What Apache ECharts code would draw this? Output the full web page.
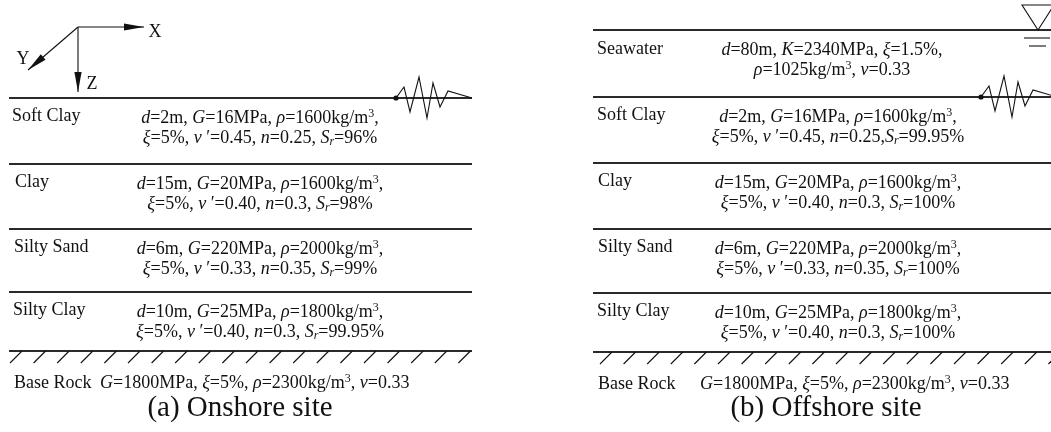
<!DOCTYPE html>
<html>
<head>
<meta charset="utf-8">
<script src="https://cdn.jsdelivr.net/npm/echarts@6/dist/echarts.min.js"></script>
<style>
  html, body { margin: 0; padding: 0; background: #fff; }
  #main { width: 1051px; height: 432px; }
</style>
</head>
<body>
<div id="main"></div>
<script>
// ---- Soil profile properties ----
const soilLayers = ['Soft Clay', 'Clay', 'Silty Sand', 'Silty Clay'];
const soilThickness = ['2', '15', '6', '10'];          // d (m)
const soilShearModulus = ['16', '20', '220', '25'];    // G (MPa)
const soilDensity = ['1600', '1600', '2000', '1800'];  // rho (kg/m3)
const soilDamping = ['5', '5', '5', '5'];              // xi (%)
const soilPoisson = ['0.45', '0.40', '0.33', '0.40'];  // nu'
const soilPorosity = ['0.25', '0.3', '0.35', '0.3'];   // n
const onshoreSaturation = ['96', '98', '99', '99.95']; // Sr (%)
const offshoreSaturation = ['99.95', '100', '100', '100'];
const onshoreSrSeparator = [', ', ', ', ', ', ', '];
const offshoreSrSeparator = [',', ', ', ', ', ', '];

// Seawater column: d (m), K (MPa), xi (%), rho (kg/m3), nu
const seawaterName = 'Seawater';
const seawaterProps = ['80', '2340', '1.5', '1025', '0.33'];

// Bedrock: G (MPa), xi (%), rho (kg/m3), nu
const rockName = 'Base Rock';
const rockProps = ['1800', '5', '2300', '0.33'];

const captions = ['(a) Onshore site', '(b) Offshore site'];
const axisNames = ['X', 'Y', 'Z'];

// ---- Layout of the two panels (pixel space of the hidden axes) ----
const panels = [
  { x0: 9, x1: 472, tops: [98, 164, 229, 292], rockLine: 351, labelX: [12, 15, 14, 13],
    descX: 260, rockLabelX: 14, rockDescX: 100, rockY: 383, captionX: 240, captionY: 408,
    hatchStart: 10, hatchStep: 23.6, hatchCount: 20, sat: onshoreSaturation, sep: onshoreSrSeparator,
    wave: [396, 98] },
  { x0: 593, x1: 1051, tops: [97, 163, 229, 293], rockLine: 352, labelX: [597, 598, 598, 597],
    descX: 838, rockLabelX: 598, rockDescX: 700, rockY: 384, captionX: 826, captionY: 408,
    hatchStart: 600, hatchStep: 23.6, hatchCount: 20, sat: offshoreSaturation, sep: offshoreSrSeparator,
    wave: [981, 97], water: { top: 30, labelX: 597, descX: 832 } }
];

const FONT = '"Liberation Serif", "Times New Roman", serif';
const INK = '#111';
const LINE = '#2a2a2a';
const rich = {
  n: { fontFamily: FONT, fontSize: 18, lineHeight: 20, color: INK },
  i: { fontFamily: FONT, fontSize: 18, lineHeight: 20, fontStyle: 'italic', color: INK },
  sup: { fontFamily: FONT, fontSize: 12, lineHeight: 20, verticalAlign: 'top', color: INK },
  sub: { fontFamily: FONT, fontSize: 12, lineHeight: 20, fontStyle: 'italic', verticalAlign: 'bottom', color: INK }
};
const tok = (s, t) => '{' + s + '|' + t + '}';

function soilText(i, sat, sep) {
  const l1 = tok('i', 'd') + tok('n', '=' + soilThickness[i] + 'm, ') +
    tok('i', 'G') + tok('n', '=' + soilShearModulus[i] + 'MPa, ') +
    tok('i', 'ρ') + tok('n', '=' + soilDensity[i] + 'kg/m') + tok('sup', '3') + tok('n', ',');
  const l2 = tok('i', 'ξ') + tok('n', '=' + soilDamping[i] + '%, ') +
    tok('i', 'ν') + tok('n', ' ′=' + soilPoisson[i] + ', ') +
    tok('i', 'n') + tok('n', '=' + soilPorosity[i] + sep[i]) +
    tok('i', 'S') + tok('sub', 'r') + tok('n', '=' + sat[i] + '%');
  return l1 + '\n' + l2;
}
function seawaterText() {
  const p = seawaterProps;
  return tok('i', 'd') + tok('n', '=' + p[0] + 'm, ') + tok('i', 'K') + tok('n', '=' + p[1] + 'MPa, ') +
    tok('i', 'ξ') + tok('n', '=' + p[2] + '%,') + '\n' +
    tok('i', 'ρ') + tok('n', '=' + p[3] + 'kg/m') + tok('sup', '3') + tok('n', ', ') +
    tok('i', 'ν') + tok('n', '=' + p[4]);
}
function rockText() {
  const p = rockProps;
  return tok('i', 'G') + tok('n', '=' + p[0] + 'MPa, ') + tok('i', 'ξ') + tok('n', '=' + p[1] + '%, ') +
    tok('i', 'ρ') + tok('n', '=' + p[2] + 'kg/m') + tok('sup', '3') + tok('n', ', ') +
    tok('i', 'ν') + tok('n', '=' + p[3]);
}

function textEl(api, x, y, text, align, size) {
  const c = api.coord([x, y]);
  return {
    type: 'text', x: c[0], y: c[1],
    style: size
      ? { text: text, fontFamily: FONT, fontSize: size, fill: INK, align: align, verticalAlign: 'middle' }
      : { text: text, rich: rich, align: align, verticalAlign: 'middle', fill: INK }
  };
}
function lineEl(api, a, b, w, color) {
  const p = api.coord(a), q = api.coord(b);
  return { type: 'line', shape: { x1: p[0], y1: p[1], x2: q[0], y2: q[1] },
    style: { stroke: color || LINE, lineWidth: w || 1.8 } };
}
function arrowHead(api, from, tip, len, half) {
  const dx = tip[0] - from[0], dy = tip[1] - from[1];
  const L = Math.hypot(dx, dy), ux = dx / L, uy = dy / L;
  const bx = tip[0] - ux * len, by = tip[1] - uy * len;
  const pts = [tip, [bx - uy * half, by + ux * half], [bx + uy * half, by - ux * half]].map(p => api.coord(p));
  return { type: 'polygon', shape: { points: pts }, style: { fill: INK } };
}
// Seismic input symbol sitting on the ground line
function waveEl(api, origin) {
  const offs = [[0, 0], [8, -11], [14, 14], [23, -21], [31, 20], [37, -15], [44, 9], [52, -7], [76, 0]];
  const pts = offs.map(o => api.coord([origin[0] + o[0], origin[1] + o[1]]));
  const c = api.coord(origin);
  return [
    { type: 'polyline', shape: { points: pts }, style: { stroke: INK, lineWidth: 1.1, fill: null } },
    { type: 'circle', shape: { cx: c[0], cy: c[1], r: 2.6 }, style: { fill: INK } }
  ];
}

function renderSoil(panelIdx) {
  return function (params, api) {
    const P = panels[panelIdx];
    const i = api.value(0);
    const top = P.tops[i];
    return { type: 'group', children: [
      lineEl(api, [P.x0, top], [P.x1, top]),
      textEl(api, P.labelX[i], top + 18, soilLayers[i], 'left', 18),
      textEl(api, P.descX, top + 30, soilText(i, P.sat, P.sep), 'center')
    ] };
  };
}

function renderFrame(panelIdx) {
  return function (params, api) {
    const P = panels[panelIdx];
    const ch = [];
    // bedrock line and hatching
    ch.push(lineEl(api, [P.x0, P.rockLine], [P.x1, P.rockLine]));
    for (let k = 0; k < P.hatchCount; k++) {
      const bx = P.hatchStart + k * P.hatchStep;
      ch.push(lineEl(api, [bx, P.rockLine + 12], [bx + 12, P.rockLine], 1.1, INK));
    }
    ch.push(textEl(api, P.rockLabelX, P.rockY, rockName, 'left', 18));
    ch.push(textEl(api, P.rockDescX, P.rockY, rockText(), 'left'));
    ch.push(textEl(api, P.captionX, P.captionY, captions[panelIdx], 'center', 29));
    waveEl(api, P.wave).forEach(e => ch.push(e));
    if (P.water) {
      const W = P.water;
      ch.push(lineEl(api, [P.x0, W.top], [P.x1, W.top]));
      ch.push(textEl(api, W.labelX, W.top + 19, seawaterName, 'left', 18));
      ch.push(textEl(api, W.descX, W.top + 30, seawaterText(), 'center'));
      const tri = [[1022, 5], [1054, 5], [1038, W.top]].map(p => api.coord(p));
      ch.push({ type: 'polygon', shape: { points: tri }, style: { fill: null, stroke: INK, lineWidth: 1.1 } });
      ch.push(lineEl(api, [1024, W.top + 8], [1050, W.top + 8], 1.1, INK));
      ch.push(lineEl(api, [1029, W.top + 16], [1046, W.top + 16], 1.1, INK));
    } else {
      // coordinate triad
      const o = [78, 27], tx = [144, 27], ty = [28, 70], tz = [78, 92];
      ch.push(lineEl(api, o, tx, 1.1, INK), arrowHead(api, o, tx, 20, 3.6));
      ch.push(lineEl(api, o, ty, 1.1, INK), arrowHead(api, o, ty, 20, 3.6));
      ch.push(lineEl(api, o, tz, 1.1, INK), arrowHead(api, o, tz, 20, 3.6));
      ch.push(textEl(api, 155, 32, axisNames[0], 'center', 18));
      ch.push(textEl(api, 23, 59, axisNames[1], 'center', 18));
      ch.push(textEl(api, 92, 84, axisNames[2], 'center', 18));
    }
    return { type: 'group', children: ch };
  };
}

const chart = echarts.init(document.getElementById('main'));
chart.setOption({
  animation: false,
  backgroundColor: '#fff',
  grid: { left: 0, right: 0, top: 0, bottom: 0 },
  xAxis: { type: 'value', min: 0, max: 1051, show: false },
  yAxis: { type: 'value', min: 0, max: 432, inverse: true, show: false },
  series: [
    { type: 'custom', renderItem: renderSoil(0), data: soilLayers.map((n, i) => [i]), silent: true },
    { type: 'custom', renderItem: renderSoil(1), data: soilLayers.map((n, i) => [i]), silent: true },
    { type: 'custom', renderItem: renderFrame(0), data: [[0]], silent: true },
    { type: 'custom', renderItem: renderFrame(1), data: [[0]], silent: true }
  ]
});
</script>
</body>
</html>
